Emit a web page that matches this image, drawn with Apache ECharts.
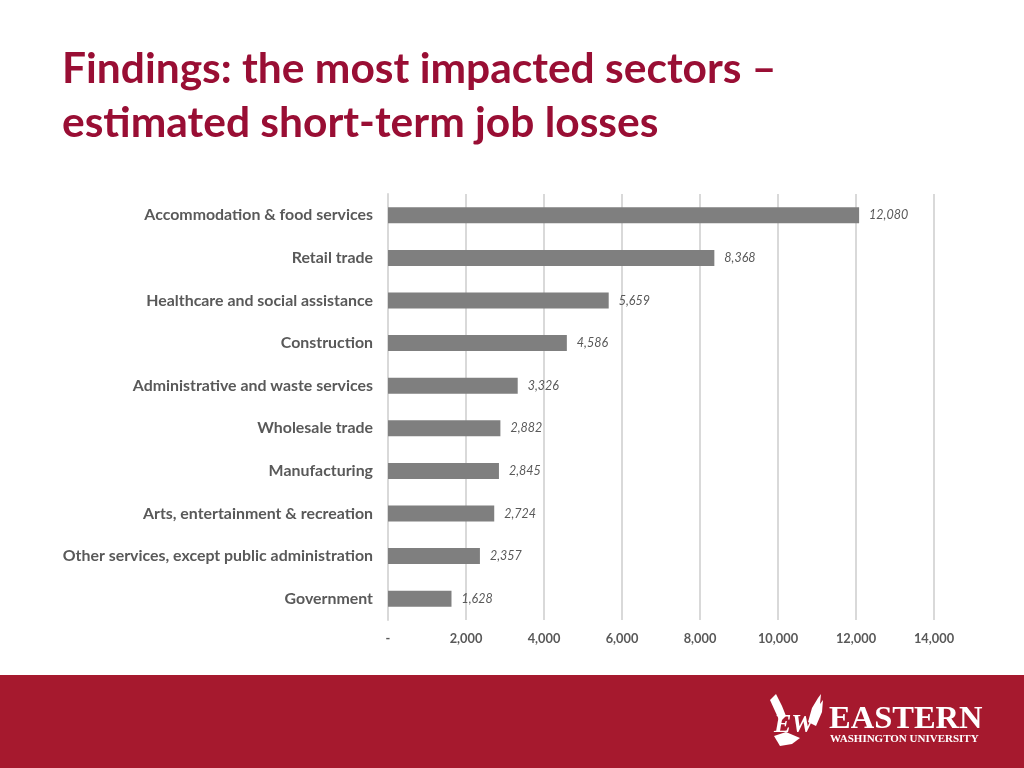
<!DOCTYPE html>
<html><head><meta charset="utf-8">
<script src="https://cdn.jsdelivr.net/npm/echarts@6/dist/echarts.min.js"></script>
<style>html,body{margin:0;padding:0;background:#fff}#c{width:1024px;height:768px}</style>
</head><body><div id="c"></div>
<script>
const categories = ["Accommodation & food services","Retail trade","Healthcare and social assistance","Construction","Administrative and waste services","Wholesale trade","Manufacturing","Arts, entertainment & recreation","Other services, except public administration","Government"];
const jobLosses = [12080,8368,5659,4586,3326,2882,2845,2724,2357,1628];
const tickLabels = {0:"-",2000:"2,000",4000:"4,000",6000:"6,000",8000:"8,000",10000:"10,000",12000:"12,000",14000:"14,000"};
const titleLines = ["Findings: the most impacted sectors –","estimated short-term job losses"];

const chart = echarts.init(document.getElementById('c'));
chart.setOption({
  backgroundColor:'#fff',
  animation:false,
  grid:{left:388,right:90,top:194,bottom:148,containLabel:false},
  xAxis:{type:'value',min:0,max:14000,interval:2000,
    axisLine:{show:false},axisTick:{show:false},
    splitLine:{show:true,lineStyle:{color:'#d9d9d9',width:2}},
    axisLabel:{margin:12,color:'#595959',fontFamily:'Lato',fontWeight:'bold',fontSize:12.8,
      formatter:v=>tickLabels[v]}},
  yAxis:{type:'category',data:categories,inverse:true,
    axisLine:{show:true,lineStyle:{color:'#d9d9d9',width:2}},axisTick:{show:false},
    axisLabel:{margin:15,color:'#595959',fontFamily:'Lato',fontWeight:'bold',fontSize:15.9}},
  series:[{type:'bar',data:jobLosses,barWidth:16,
    itemStyle:{color:'#7f7f7f'},
    label:{show:true,position:'right',distance:10,color:'#595959',fontStyle:'italic',fontFamily:'Lato',fontSize:12.5,
      formatter:p=>p.value.toLocaleString('en-US')}}],
  graphic:[
    {type:'text',left:62,top:48,style:{text:titleLines[0],fill:'#990e34',font:'bold 42.5px Lato'}},
    {type:'text',left:62,top:102,style:{text:titleLines[1],fill:'#990e34',font:'bold 42.5px Lato'}},
    {type:'rect',shape:{x:0,y:675,width:1024,height:93},style:{fill:'#a6192e'}},
    {type:'text',left:829,top:703,style:{text:'EASTERN',fill:'#fff',font:'bold 32.5px "Liberation Serif"'}},
    {type:'text',left:830,top:734,style:{text:'WASHINGTON UNIVERSITY',fill:'#fff',font:'bold 11px "Liberation Serif"'}},
    {type:'polygon',shape:{points:[[808,722],[812,708],[818,698],[821,694],[820,704],[823,700],[822,712],[816,726]]},style:{fill:'#fff'}},
    {type:'polygon',shape:{points:[[770,700],[776,694],[782,706],[786,716],[780,722]]},style:{fill:'#fff'}},
    {type:'text',left:774,top:712,style:{text:'EW',fill:'#fff',font:'bold italic 26px "Liberation Serif"'}},
    {type:'polygon',shape:{points:[[774,736],[786,732],[800,738],[792,744],[780,746]]},style:{fill:'#fff'}}
  ]
});
</script></body></html>
